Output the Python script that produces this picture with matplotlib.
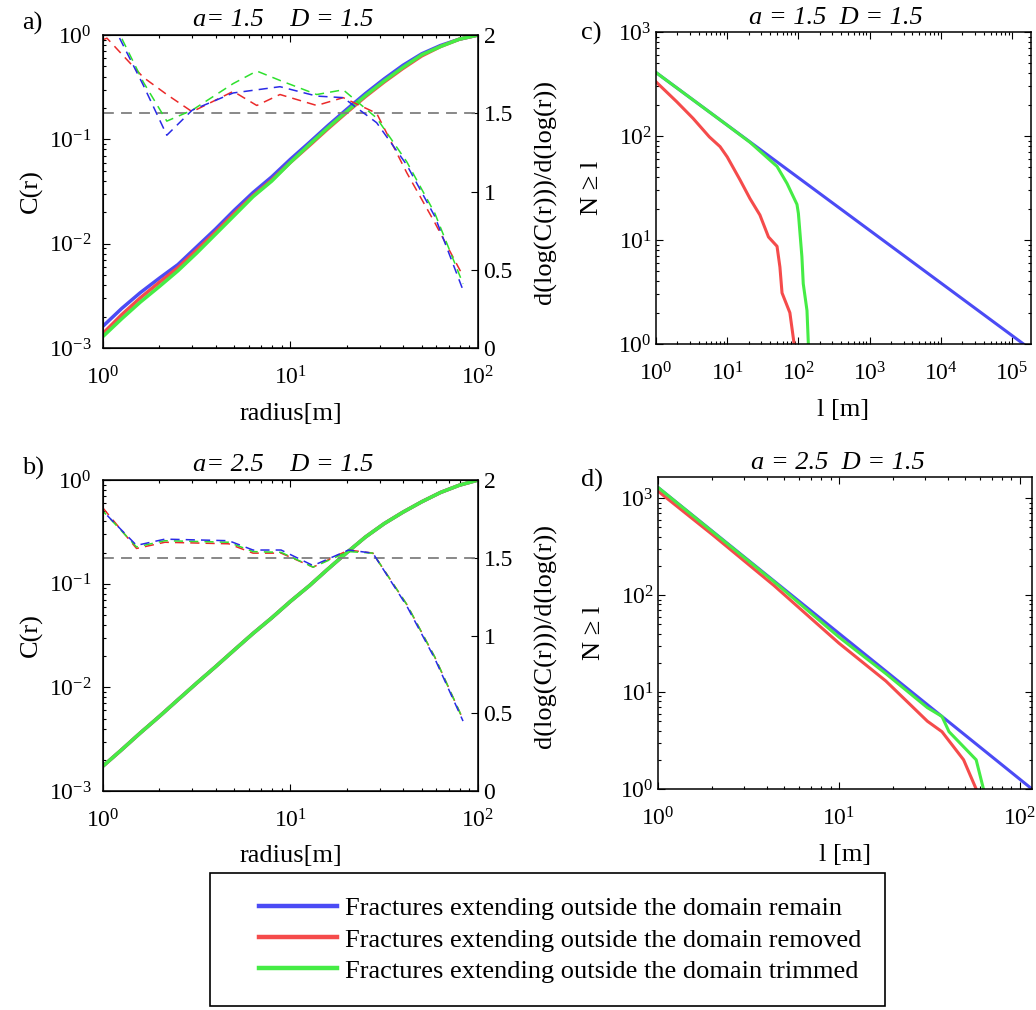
import numpy as np
import matplotlib
matplotlib.use('Agg')
import matplotlib.pyplot as plt
from matplotlib.lines import Line2D
from matplotlib.patches import Rectangle
from matplotlib.ticker import LogLocator, FixedLocator, FixedFormatter, NullFormatter

# --- Configuração de fontes ---
plt.rcParams['font.family'] = ['Liberation Serif', 'DejaVu Serif']
plt.rcParams['mathtext.fontset'] = 'custom'
plt.rcParams['mathtext.rm'] = 'Liberation Serif'
plt.rcParams['mathtext.it'] = 'Liberation Serif:italic'
plt.rcParams['font.size'] = 17
FS_TEXTO = 19

# --- Cores das três variantes ---
AZUL = '#4b4bf5'
VERMELHO = '#f54b4b'
VERDE = '#45ec45'
AZUL_TR = '#2a2ae6'
VERMELHO_TR = '#eb2a2a'
VERDE_TR = '#2ee02e'
CINZA = '#7f7f7f'

LEGENDAS = ['Fractures extending outside the domain remain',
            'Fractures extending outside the domain removed',
            'Fractures extending outside the domain trimmed']

# --- Dados: integral de correlação C(r) ---
r_c = [1.0, 1.26, 1.58, 2.00, 2.51, 3.16, 3.98, 5.01, 6.31, 7.94, 10.0,
       12.6, 15.8, 20.0, 25.1, 31.6, 39.8, 50.1, 63.1, 79.4, 100.0]

c_a_remain = [1.62e-3, 2.40e-3, 3.39e-3, 4.68e-3, 6.31e-3, 9.33e-3, 1.38e-2,
              2.09e-2, 3.09e-2, 4.37e-2, 6.46e-2, 9.33e-2, 0.135, 0.195, 0.275,
              0.380, 0.513, 0.661, 0.794, 0.912, 1.0]
c_a_removed = [1.38e-3, 2.09e-3, 3.02e-3, 4.27e-3, 5.89e-3, 8.71e-3, 1.29e-2,
               1.95e-2, 2.88e-2, 4.07e-2, 6.03e-2, 8.71e-2, 0.126, 0.182, 0.257,
               0.355, 0.479, 0.631, 0.776, 0.912, 1.0]
c_a_trimmed = [1.29e-3, 1.91e-3, 2.75e-3, 3.89e-3, 5.50e-3, 8.13e-3, 1.23e-2,
               1.86e-2, 2.82e-2, 3.98e-2, 6.03e-2, 8.91e-2, 0.129, 0.186, 0.263,
               0.363, 0.490, 0.646, 0.776, 0.912, 1.0]

c_b = [1.74e-3, 2.51e-3, 3.63e-3, 5.25e-3, 7.59e-3, 1.10e-2, 1.58e-2, 2.29e-2,
       3.31e-2, 4.68e-2, 6.76e-2, 9.55e-2, 0.138, 0.200, 0.282, 0.380, 0.490,
       0.617, 0.759, 0.891, 1.0]

# --- Dados: inclinação local d(log C)/d(log r) ---
r_slope_a = [1.0, 1.05, 1.64, 2.19, 2.99, 4.95, 6.61, 8.79, 13.8, 19.1, 28.8,
             41.7, 58.9, 83.2]
slope_a_remain = [2.19, 2.14, 1.68, 1.36, 1.52, 1.63, 1.65, 1.67, 1.61, 1.60,
                  1.44, 1.17, 0.84, 0.37]
slope_a_removed = [1.97, 1.98, 1.73, 1.62, 1.51, 1.64, 1.55, 1.62, 1.55, 1.60,
                   1.50, 1.12, 0.80, 0.46]
slope_a_trimmed = [2.21, 2.17, 1.70, 1.45, 1.52, 1.69, 1.77, 1.71, 1.62, 1.65,
                   1.47, 1.19, 0.86, 0.41]

r_slope_b = [1.0, 1.51, 2.14, 4.68, 6.31, 8.91, 13.2, 20.4, 27.5, 41.7, 58.9, 83.2]
slope_b_remain = [1.80, 1.58, 1.62, 1.61, 1.55, 1.55, 1.45, 1.55, 1.53, 1.19, 0.85, 0.45]
slope_b_removed = [1.82, 1.56, 1.60, 1.59, 1.53, 1.53, 1.44, 1.55, 1.53, 1.20, 0.86, 0.46]
slope_b_trimmed = [1.80, 1.57, 1.61, 1.60, 1.54, 1.535, 1.44, 1.54, 1.53, 1.20, 0.86, 0.46]

D_REF = 1.5

# --- Dados: distribuição acumulada de comprimentos N >= l ---
l_c_remain = [1.0, 1.45e5]
n_c_remain = [408, 1]
l_c_removed = [1.0, 1.95, 3.31, 5.62, 7.94, 10.0, 15.1, 20.9, 28.8, 38.0, 50.1,
               55.0, 58.9, 75.9, 83.2, 87.1]
n_c_removed = [332, 214, 148, 98, 79, 63, 38, 25, 17.4, 10.7, 8.7, 5.5, 3.1,
               2.0, 1.26, 1.0]
l_c_trimmed = [1.0, 10.0, 20.9, 50.1, 69.2, 95.5, 100, 112, 117, 132, 138]
n_c_trimmed = [408, 127, 87, 51, 35, 22, 18, 6.9, 3.8, 2.1, 1.0]

l_d_remain = [1.0, 117]
n_d_remain = [1290, 1]
l_d_removed = [1.0, 2.0, 4.37, 10.0, 18.2, 30.9, 37.2, 49.0, 57.5]
n_d_removed = [1180, 420, 126, 32, 13, 5.0, 3.9, 2.0, 1.0]
l_d_trimmed = [1.0, 4.37, 10.0, 18.2, 30.9, 37.2, 40.7, 57.5, 63.1]
n_d_trimmed = [1290, 138, 37, 15.5, 6.9, 5.6, 3.9, 2.0, 1.0]


def ajustar_ticks(ax, direita=True, pad_y=8):
    ax.tick_params(which='both', direction='in', top=True, right=direita, width=0.8)
    ax.tick_params(axis='x', which='both', pad=13)
    ax.tick_params(axis='y', which='both', pad=pad_y)
    ax.tick_params(which='major', length=5)
    ax.tick_params(which='minor', length=2.5)
    for sp in ax.spines.values():
        sp.set_linewidth(1.1)


def log_ticks(eixo, expoentes):
    eixo.set_major_locator(FixedLocator([10.0 ** e for e in expoentes]))
    eixo.set_minor_locator(LogLocator(base=10, subs=np.arange(2, 10), numticks=50))
    eixo.set_minor_formatter(NullFormatter())


def painel_correlacao(pos, c_lines, r_slope, slopes, titulo, letra, letra_y):
    ax = fig.add_axes(pos)
    ax.set_xscale('log')
    ax.set_yscale('log')
    for c, cor in zip(c_lines, [AZUL, VERMELHO, VERDE]):
        ax.plot(r_c, c, color=cor, lw=2.5, solid_capstyle='butt')
    ax.set_xlim(1, 100)
    ax.set_ylim(1e-3, 1)
    log_ticks(ax.xaxis, [0, 1, 2])
    log_ticks(ax.yaxis, [-3, -2, -1, 0])
    ajustar_ticks(ax, direita=False, pad_y=8)
    ax.set_xlabel('radius[m]', fontsize=FS_TEXTO)
    ax.set_ylabel('C(r)', fontsize=FS_TEXTO)
    ax.xaxis.label.set_va('center')
    ax.yaxis.label.set_va('center')
    ax.xaxis.set_label_coords(0.5, -0.21)
    ax.yaxis.set_label_coords(-0.19, 0.5)

    ax2 = ax.twinx()
    ax2.axhline(D_REF, color=CINZA, lw=1.3, dashes=(6, 4))
    for s, cor, off in zip(slopes, [VERMELHO_TR, VERDE_TR, AZUL_TR], [0, 3, 6]):
        ax2.plot(r_slope, s, color=cor, lw=1.1, linestyle=(off, (6, 4)))
    ax2.set_ylim(0, 2)
    ax2.yaxis.set_major_locator(FixedLocator([0, 0.5, 1, 1.5, 2]))
    ax2.yaxis.set_major_formatter(FixedFormatter(['0', '0.5', '1', '1.5', '2']))
    ax2.tick_params(which='both', direction='in', length=5, width=0.8, pad=4)
    ax2.set_ylabel('d(log(C(r)))/d(log(r))', fontsize=FS_TEXTO)
    ax2.yaxis.label.set_va('center')
    ax2.yaxis.set_label_coords(1.18, 0.5)

    ax.text(0.48, 1.048, titulo, transform=ax.transAxes, ha='center',
            va='center', style='italic', fontsize=FS_TEXTO)
    fig.text(0.021, letra_y, letra, ha='left', va='center', fontsize=FS_TEXTO)
    return ax


def painel_comprimentos(pos, curvas, xlim, ylim, xexp, yexp, titulo, letra, letra_y):
    ax = fig.add_axes(pos)
    ax.set_xscale('log')
    ax.set_yscale('log')
    for (l, n), cor in zip(curvas, [AZUL, VERMELHO, VERDE]):
        ax.plot(l, n, color=cor, lw=2.2)
    ax.set_xlim(*xlim)
    ax.set_ylim(*ylim)
    log_ticks(ax.xaxis, xexp)
    log_ticks(ax.yaxis, yexp)
    ajustar_ticks(ax, pad_y=3)
    ax.set_xlabel('l [m]', fontsize=FS_TEXTO)
    ax.set_ylabel('N ≥ l', fontsize=FS_TEXTO)
    ax.xaxis.label.set_va('center')
    ax.yaxis.label.set_va('center')
    ax.xaxis.set_label_coords(0.5, -0.21)
    ax.yaxis.set_label_coords(-0.17, 0.5)
    ax.text(0.48, 1.045, titulo, transform=ax.transAxes, ha='center',
            va='center', style='italic', fontsize=FS_TEXTO)
    fig.text(0.561, letra_y, letra, ha='left', va='center', fontsize=FS_TEXTO)
    return ax


fig = plt.figure(figsize=(10.36, 10.10), dpi=100)

painel_correlacao([0.0994, 0.6554, 0.3620, 0.3099],
                  [c_a_remain, c_a_removed, c_a_trimmed], r_slope_a,
                  [slope_a_removed, slope_a_trimmed, slope_a_remain],
                  'a= 1.5    D = 1.5', 'a)', 1 - 23 / 1010)
painel_correlacao([0.0994, 0.2168, 0.3620, 0.3079],
                  [c_b, c_b, c_b], r_slope_b,
                  [slope_b_removed, slope_b_trimmed, slope_b_remain],
                  'a= 2.5    D = 1.5', 'b)', 1 - 468 / 1010)

painel_comprimentos([0.6332, 0.6594, 0.3620, 0.3089],
                    [(l_c_remain, n_c_remain), (l_c_removed, n_c_removed),
                     (l_c_trimmed, n_c_trimmed)],
                    (1, 1.85e5), (1, 1000), [0, 1, 2, 3, 4, 5], [0, 1, 2, 3],
                    'a = 1.5  D = 1.5', 'c)', 1 - 33 / 1010)
painel_comprimentos([0.6351, 0.2188, 0.3610, 0.3089],
                    [(l_d_remain, n_d_remain), (l_d_removed, n_d_removed),
                     (l_d_trimmed, n_d_trimmed)],
                    (1, 117), (1, 1650), [0, 1, 2], [0, 1, 2, 3],
                    'a = 2.5  D = 1.5', 'd)', 1 - 480 / 1010)

# --- Legenda em caixa única abaixo dos painéis ---
caixa = Rectangle((210 / 1036, 1 - 1006 / 1010), 675 / 1036, 133 / 1010,
                  transform=fig.transFigure, fill=False, edgecolor='black', lw=1.2)
fig.add_artist(caixa)
handles = [Line2D([], [], color=c, lw=3.2) for c in [AZUL, VERMELHO, VERDE]]
fig.legend(handles, LEGENDAS, loc='upper left', bbox_to_anchor=(259 / 1036, 1 - 897 / 1010),
           bbox_transform=fig.transFigure, frameon=False, handlelength=2.95,
           handletextpad=0.3, labelspacing=0.29, borderpad=0, borderaxespad=0,
           fontsize=FS_TEXTO)

fig.savefig('out.png', dpi=100)
